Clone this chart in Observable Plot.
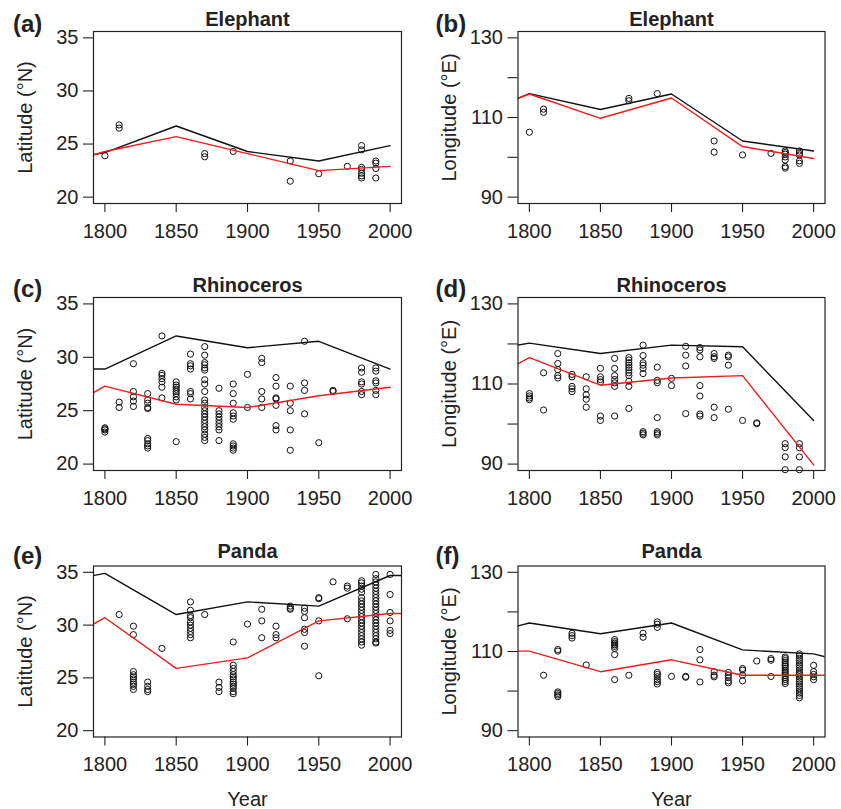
<!DOCTYPE html>
<html><head><meta charset="utf-8">
<script src="https://cdn.jsdelivr.net/npm/d3@7"></script>
<script src="https://cdn.jsdelivr.net/npm/@observablehq/plot@0.6"></script>
<style>
body{margin:0;background:#fff;}
#wrap{position:relative;width:841px;height:809px;overflow:hidden;background:#fff;}
.cell{position:absolute;}
</style></head><body><div id="wrap"></div>
<script>
// ---------- data ----------
const yearTicks = [1800, 1850, 1900, 1950, 2000];
const latTicks = [20, 25, 30, 35];
const lonTicks = [90, 100, 110, 120, 130];
const lonLabels = [90, 110, 130];
const lineYears = [1790, 1800, 1850, 1900, 1950, 2000];
const lineYearsPanda = [1790, 1800, 1850, 1900, 1950, 2000, 2010];

const elephantLat = [
  [1800, [23.9]], [1810, [26.8, 26.5]], [1870, [24.1, 23.8]], [1890, [24.3]],
  [1930, [23.4, 21.5]], [1950, [22.2]], [1970, [22.9]],
  [1980, [24.85, 24.45, 22.8, 22.6, 22.25, 22.0, 21.8]],
  [1990, [23.4, 23.2, 22.7, 21.8]]
];
const elephantLatBlack = [23.95, 24.2, 26.7, 24.3, 23.4, 24.85];
const elephantLatRed = [23.9, 24.3, 25.7, 24.1, 22.5, 22.9];

const elephantLon = [
  [1800, [106.3]], [1810, [112.1, 111.3]], [1870, [114.8, 114.2]], [1890, [116.0]],
  [1930, [104.1, 101.3]], [1950, [100.6]], [1970, [101.0]],
  [1980, [101.6, 101.2, 100.8, 100.1, 99.3, 97.7, 97.3]],
  [1990, [101.6, 101.0, 100.6, 99.1, 98.5]]
];
const elephantLonBlack = [114.5, 116.0, 112.0, 115.9, 104.1, 101.6];
const elephantLonRed = [114.5, 115.9, 109.8, 114.9, 102.7, 99.7];

const rhinoLat = [
  [1800, [23.4, 23.3, 23.2, 23.0]],
  [1810, [25.8, 25.3]],
  [1820, [29.4, 26.8, 26.3, 25.9, 25.4]],
  [1830, [26.6, 26.0, 25.7, 25.3, 25.2, 22.4, 22.2, 21.9, 21.7, 21.5]],
  [1840, [32.0, 28.5, 28.3, 28.0, 27.7, 27.2, 26.2]],
  [1850, [27.7, 27.4, 27.2, 27.0, 26.8, 26.6, 26.3, 26.0, 22.1]],
  [1860, [30.3, 29.4, 29.2, 28.9, 26.8, 26.6, 26.1]],
  [1870, [31.0, 30.2, 29.5, 29.3, 29.0, 28.8, 27.9, 27.5, 26.8, 26.0, 25.7, 25.3, 25.0, 24.7, 24.4, 24.1, 23.8, 23.5, 23.2, 22.8, 22.5, 22.2]],
  [1880, [27.1, 25.0, 24.7, 24.4, 24.1, 23.8, 23.5, 23.2, 22.2]],
  [1890, [27.5, 26.6, 25.7, 24.8, 24.5, 24.2, 21.9, 21.7, 21.5, 21.3]],
  [1900, [28.4, 25.3]],
  [1910, [29.9, 29.5, 26.8, 26.1, 25.3]],
  [1920, [28.1, 27.3, 26.2, 26.1, 25.5, 23.6, 23.2]],
  [1930, [27.3, 25.7, 25.0, 23.2, 21.3]],
  [1940, [31.5, 27.6, 26.9, 24.7]],
  [1950, [22.0]],
  [1960, [26.9, 26.8]],
  [1980, [29.0, 28.6, 27.7, 27.5, 26.8, 26.5]],
  [1990, [29.0, 28.7, 27.8, 27.6, 26.9, 26.5]]
];
const rhinoLatBlack = [28.9, 28.9, 32.0, 30.9, 31.5, 28.9];
const rhinoLatRed = [26.55, 27.3, 25.6, 25.3, 26.4, 27.2];

const rhinoLon = [
  [1800, [107.6, 107.0, 106.5, 106.1]],
  [1810, [112.8, 103.5]],
  [1820, [117.6, 115.1, 113.6, 112.1, 111.5]],
  [1830, [112.4, 111.8, 109.4, 108.8, 108.1]],
  [1840, [111.8, 108.8, 107.3, 106.2, 104.2]],
  [1850, [113.9, 111.8, 111.1, 110.5, 102.0, 100.9]],
  [1860, [116.4, 113.9, 112.1, 111.1, 110.3, 109.4, 102.0]],
  [1870, [116.6, 116.0, 115.3, 114.7, 114.1, 113.5, 112.8, 112.1, 110.7, 109.4, 103.9]],
  [1880, [119.7, 117.1, 115.3, 114.7, 113.9, 112.6, 98.1, 97.7, 97.3]],
  [1890, [114.2, 110.9, 110.3, 101.6, 98.1, 97.7, 97.3]],
  [1900, [111.4, 109.6]],
  [1910, [119.4, 117.2, 114.5, 102.6]],
  [1920, [119.1, 118.5, 116.8, 109.6, 107.0, 102.5, 102.0]],
  [1930, [117.6, 116.8, 116.4, 104.2, 101.6]],
  [1940, [117.2, 116.8, 114.7, 103.7]],
  [1950, [100.9]],
  [1960, [100.3, 100.1]],
  [1980, [95.1, 94.1, 91.8, 88.6]],
  [1990, [95.1, 94.1, 91.8, 88.6]]
];
const rhinoLonBlack = [119.6, 120.2, 117.6, 119.7, 119.3, 100.9];
const rhinoLonRed = [114.7, 116.6, 109.7, 111.5, 112.1, 89.8];

const pandaLat = [
  [1810, [31.0]],
  [1820, [29.9, 29.1, 25.6, 25.3, 25.1, 24.9, 24.6, 24.4, 24.2, 23.9]],
  [1830, [24.6, 24.2, 23.9, 23.7]],
  [1840, [27.8]],
  [1860, [32.2, 31.4, 30.9, 30.7, 30.3, 30.0, 29.7, 29.4, 29.1, 28.8]],
  [1870, [31.0]],
  [1880, [24.6, 24.1, 23.7]],
  [1890, [28.4, 26.2, 25.9, 25.6, 25.3, 25.1, 24.9, 24.6, 24.4, 24.2, 24.0, 23.7, 23.5]],
  [1900, [30.1]],
  [1910, [31.5, 30.4, 28.8]],
  [1920, [29.9, 29.1, 28.8]],
  [1930, [31.8, 31.6, 31.5]],
  [1940, [31.6, 31.3, 30.7, 29.6, 29.3, 28.0]],
  [1950, [32.6, 32.5, 30.4, 25.2]],
  [1960, [34.1]],
  [1970, [33.7, 33.5, 30.6]],
  [1980, [34.2, 34.0, 33.7, 33.4, 33.1, 32.6, 32.3, 32.0, 31.7, 31.4, 31.1, 30.8, 30.5, 30.2, 29.9, 29.6, 29.3, 29.0, 28.7, 28.4, 28.1]],
  [1990, [34.8, 34.4, 34.1, 33.8, 33.5, 33.2, 32.9, 32.6, 32.3, 32.0, 31.7, 31.4, 31.1, 30.8, 30.5, 30.2, 29.9, 29.6, 29.3, 29.0, 28.7, 28.4, 28.3]],
  [2000, [34.8, 32.9, 31.2, 30.4, 29.5, 29.2]]
];
const pandaLatBlack = [34.65, 34.9, 31.0, 32.2, 31.8, 34.7, 34.7];
const pandaLatRed = [29.95, 30.7, 25.9, 26.9, 30.4, 31.1, 31.1];

const pandaLon = [
  [1810, [104.0]],
  [1820, [110.5, 110.1, 99.8, 99.4, 99.0, 98.6]],
  [1830, [114.6, 114.0, 113.4]],
  [1840, [106.6]],
  [1860, [113.0, 112.5, 112.1, 111.7, 111.3, 110.8, 109.2, 102.9]],
  [1870, [104.0]],
  [1880, [114.6, 113.6]],
  [1890, [117.5, 116.9, 116.1, 104.7, 104.2, 103.6, 102.9, 102.4, 101.8]],
  [1900, [103.7]],
  [1910, [103.7, 103.5]],
  [1920, [110.5, 107.9, 102.3]],
  [1930, [104.9, 104.0, 103.6]],
  [1940, [104.7, 104.0, 103.4, 102.6, 102.1]],
  [1950, [105.7, 105.3, 104.0, 102.6]],
  [1960, [107.6]],
  [1970, [108.2, 107.8, 103.7]],
  [1980, [108.6, 108.2, 107.7, 107.2, 106.7, 106.3, 105.8, 105.3, 104.8, 104.4, 103.9, 103.4, 102.9, 102.4, 101.9]],
  [1990, [109.4, 108.9, 108.3, 107.7, 107.1, 106.5, 105.9, 105.3, 104.7, 104.2, 103.6, 103.0, 102.4, 101.8, 101.2, 100.6, 100.0, 99.5, 98.9, 98.3]],
  [2000, [106.5, 104.9, 104.2, 103.6, 102.9]]
];
const pandaLonBlack = [116.3, 117.2, 114.5, 117.2, 110.4, 109.4, 108.5];
const pandaLonRed = [110.1, 110.1, 104.9, 107.9, 104.0, 104.0, 104.0];

// ---------- layout ----------
const FONT = '"Liberation Sans", Arial, Helvetica, sans-serif';
const cols = [
  {left: 0, width: 420, marginLeft: 93, marginRight: 19, labelDx: -80.5},
  {left: 420, width: 421, marginLeft: 97.5, marginRight: 16.5, labelDx: -82.5}
];
const rows = [
  {top: 0, height: 268, marginTop: 31, marginBottom: 65, titleDy: -6, labelDy: 0, year: false},
  {top: 268, height: 267, marginTop: 29, marginBottom: 65, titleDy: -6, labelDy: -1, year: false},
  {top: 535, height: 274, marginTop: 30.5, marginBottom: 72.5, titleDy: -8, labelDy: -2.5, year: true}
];

const panels = [
  {tag: "(a)", title: "Elephant", kind: "lat", pts: elephantLat, years: lineYears, black: elephantLatBlack, red: elephantLatRed, r: 0, c: 0},
  {tag: "(b)", title: "Elephant", kind: "lon", pts: elephantLon, years: lineYears, black: elephantLonBlack, red: elephantLonRed, r: 0, c: 1},
  {tag: "(c)", title: "Rhinoceros", kind: "lat", pts: rhinoLat, years: lineYears, black: rhinoLatBlack, red: rhinoLatRed, r: 1, c: 0},
  {tag: "(d)", title: "Rhinoceros", kind: "lon", pts: rhinoLon, years: lineYears, black: rhinoLonBlack, red: rhinoLonRed, r: 1, c: 1},
  {tag: "(e)", title: "Panda", kind: "lat", pts: pandaLat, years: lineYearsPanda, black: pandaLatBlack, red: pandaLatRed, r: 2, c: 0},
  {tag: "(f)", title: "Panda", kind: "lon", pts: pandaLon, years: lineYearsPanda, black: pandaLonBlack, red: pandaLonRed, r: 2, c: 1}
];

const wrap = document.getElementById("wrap");
for (const p of panels) {
  const col = cols[p.c], row = rows[p.r];
  const isLat = p.kind === "lat";
  const pts = p.pts.flatMap(([year, vals]) => vals.map(v => ({year, v})));
  const blackLine = p.years.map((year, i) => ({year, v: p.black[i]}));
  const redLine = p.years.map((year, i) => ({year, v: p.red[i]}));
  const marks = [
    Plot.axisX({ticks: yearTicks, tickSize: 9, tickPadding: 11, tickFormat: d => String(d), label: null, stroke: "#222", strokeWidth: 1.1}),
    isLat
      ? Plot.axisY({ticks: latTicks, tickSize: 10, tickPadding: 5, tickFormat: d => String(d), label: null, stroke: "#222", strokeWidth: 1.1})
      : Plot.axisY({ticks: lonTicks, tickSize: 10, tickPadding: 5, tickFormat: d => lonLabels.includes(d) ? String(d) : "", label: null, stroke: "#222", strokeWidth: 1.1}),
    Plot.dot(pts, {x: "year", y: "v", r: 3.1, stroke: "#111", strokeWidth: 1, fill: "none"}),
    Plot.line(blackLine, {x: "year", y: "v", stroke: "#111", strokeWidth: 1.4, clip: true}),
    Plot.line(redLine, {x: "year", y: "v", stroke: "#f01c1c", strokeWidth: 1.4, clip: true}),
    Plot.frame({stroke: "#222", strokeWidth: 1.2}),
    Plot.text([p.title], {frameAnchor: "top", dy: row.titleDy, lineAnchor: "bottom", fontWeight: "bold", fontSize: 20, fill: "#222"}),
    Plot.text([p.tag], {frameAnchor: "top-left", dx: col.labelDx, dy: row.labelDy, textAnchor: "start", lineAnchor: "bottom", fontWeight: "bold", fontSize: 24, fill: "#222"}),
    Plot.text([isLat ? "Latitude (°N)" : "Longitude (°E)"], {frameAnchor: "left", dx: -68, rotate: -90, textAnchor: "middle", lineAnchor: "middle", fontSize: 20, fill: "#222"})
  ];
  if (row.year) marks.push(Plot.text(["Year"], {frameAnchor: "bottom", dy: 68.5, lineAnchor: "bottom", fontSize: 20, fill: "#222"}));
  const chart = Plot.plot({
    width: col.width, height: row.height,
    marginLeft: col.marginLeft, marginRight: col.marginRight,
    marginTop: row.marginTop, marginBottom: row.marginBottom,
    x: {domain: [1792, 2008]},
    y: {domain: isLat ? [19.4, 35.6] : [88.4, 131.6]},
    style: {fontFamily: FONT, fontSize: "20px", color: "#222", background: "transparent", overflow: "visible"},
    marks
  });
  const div = document.createElement("div");
  div.className = "cell";
  div.style.left = col.left + "px";
  div.style.top = row.top + "px";
  div.appendChild(chart);
  wrap.appendChild(div);
}
</script></body></html>
